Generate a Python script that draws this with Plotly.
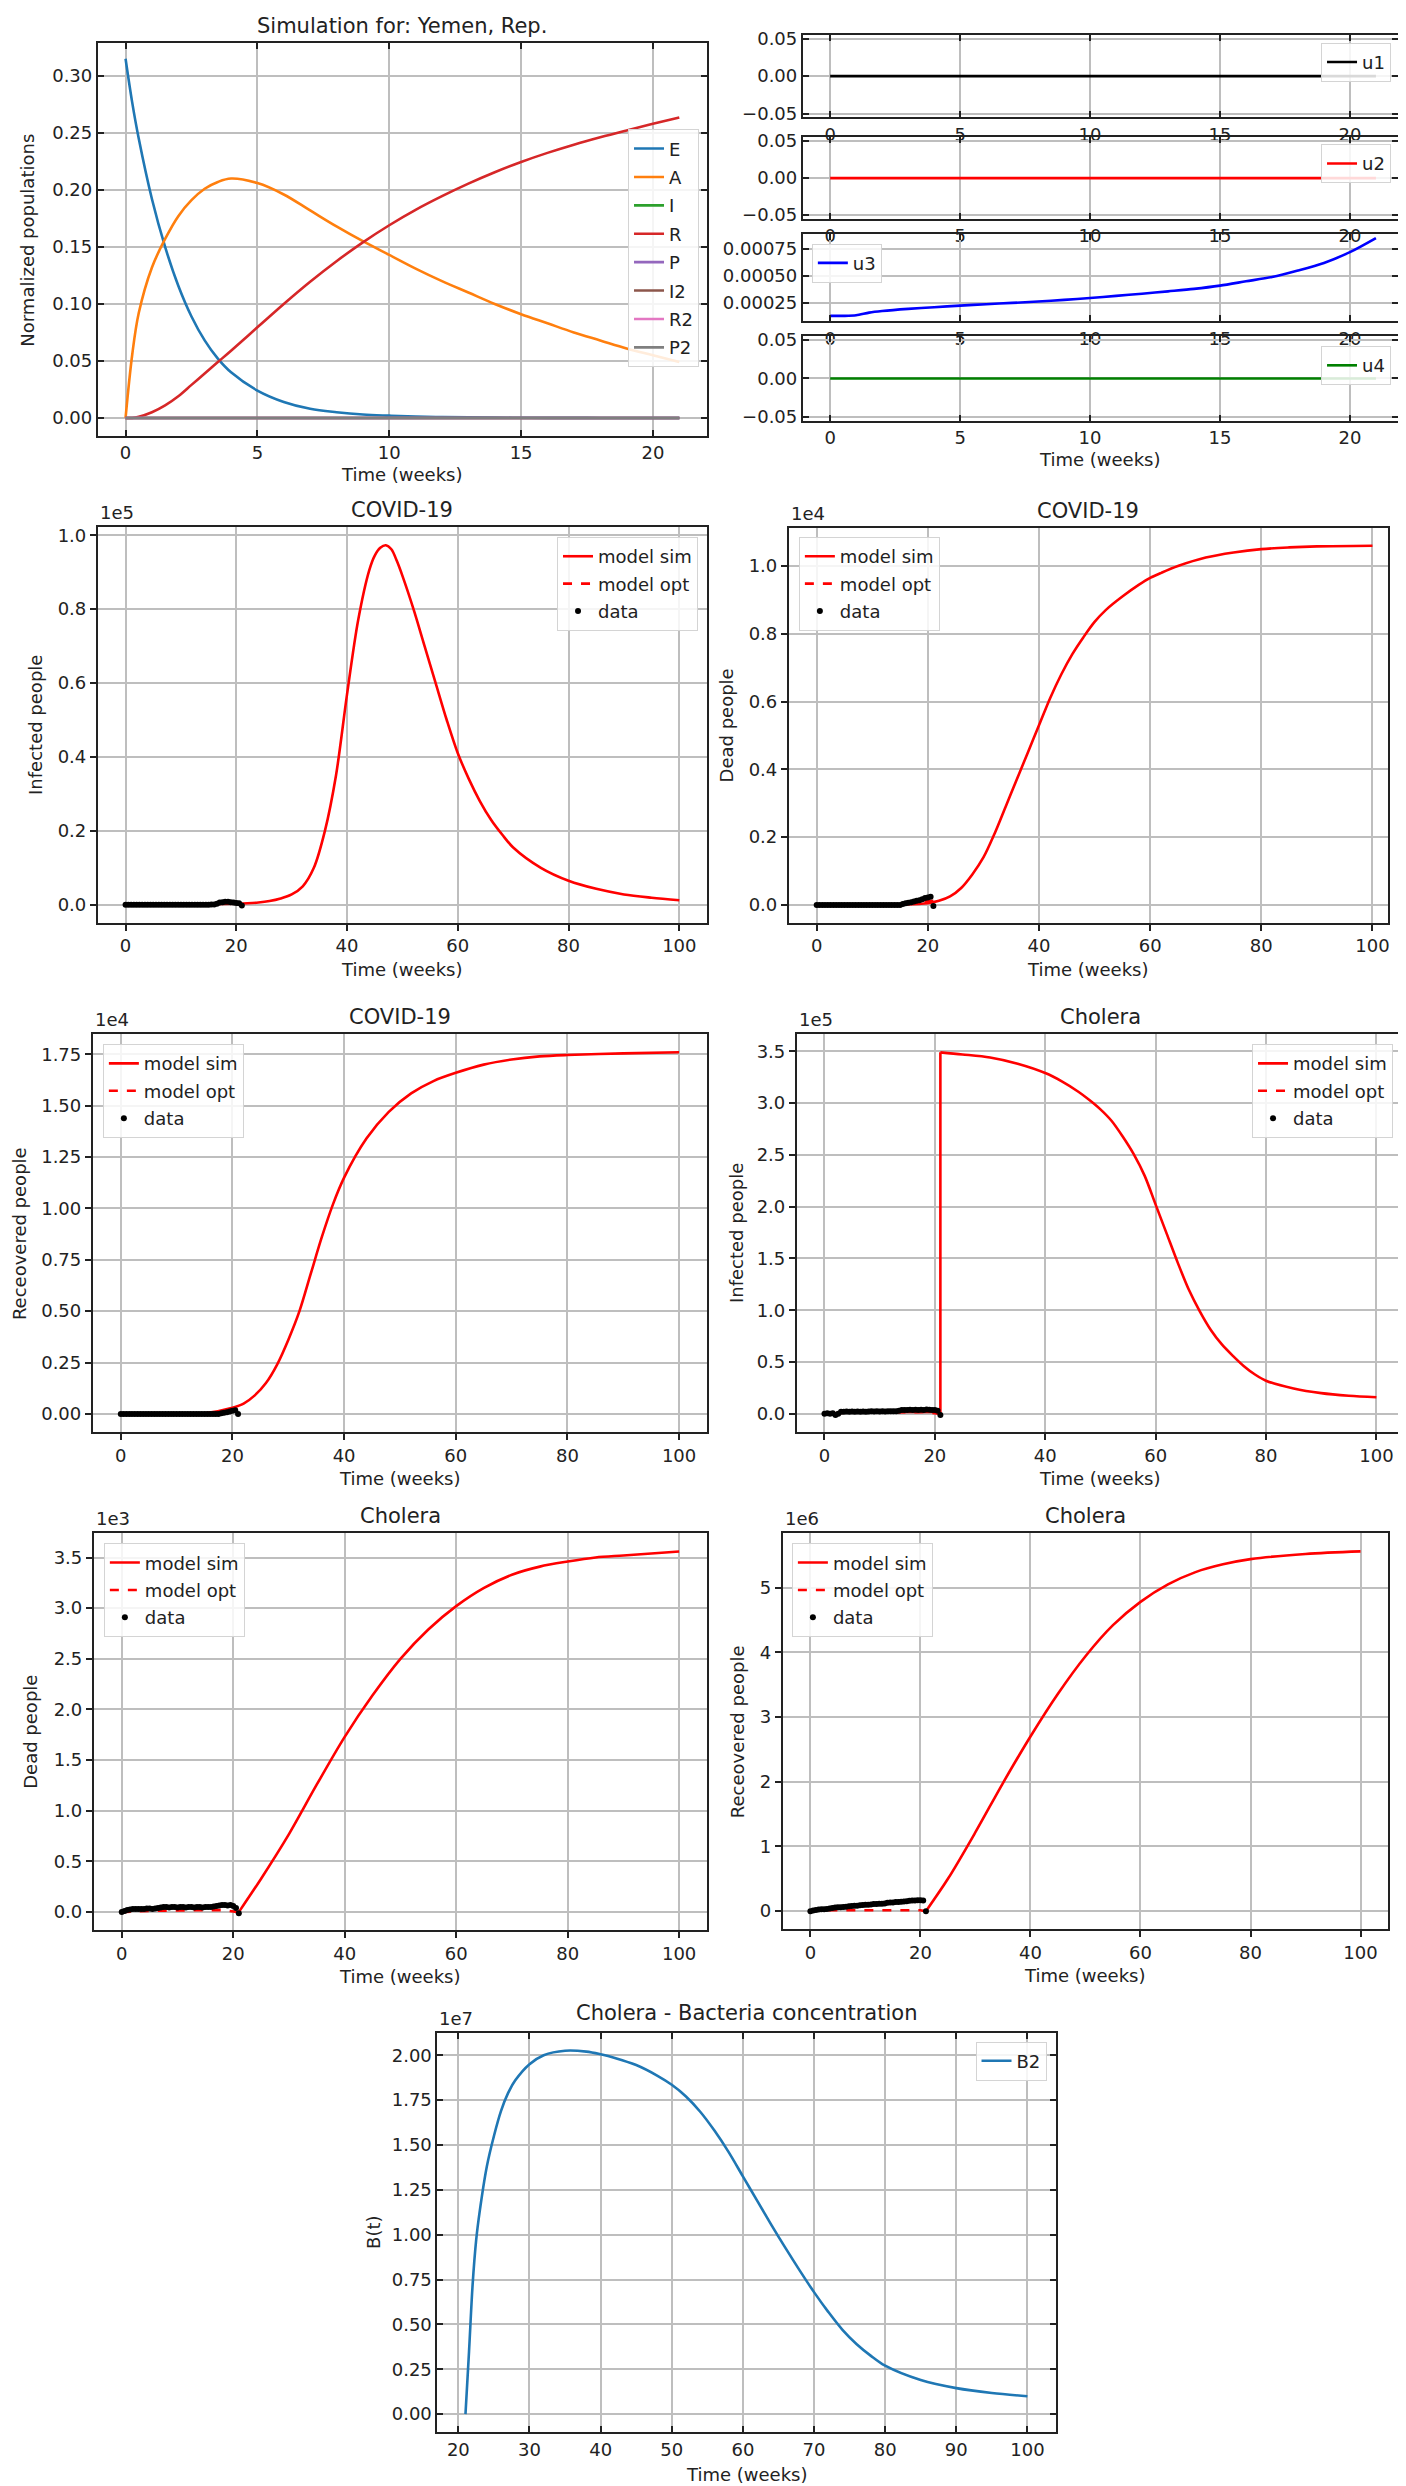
import plotly.graph_objects as go

W, H = 1406, 2486
FONT = "DejaVu Sans"

# ---------------- data ----------------
# Panel A : normalized populations (weeks 0..21)
pop_t = [0, 0.25, 0.5, 1, 1.5, 2, 2.5, 3, 3.5, 4, 5, 6, 7, 8, 9, 10, 11, 12, 13, 14, 15, 16, 17, 18, 19, 20, 21]
pop_E = [0.315, 0.277, 0.245, 0.192, 0.150, 0.116, 0.089, 0.068, 0.052, 0.040, 0.024, 0.014, 0.008, 0.005, 0.003,
         0.002, 0.0012, 0.0008, 0.0005, 0.0003, 0.0002, 0.0001, 0.0001, 0.0, 0.0, 0.0, 0.0]
pop_A = [0.0, 0.055, 0.092, 0.132, 0.157, 0.177, 0.191, 0.201, 0.207, 0.210, 0.206, 0.196, 0.182, 0.168, 0.155,
         0.143, 0.131, 0.120, 0.110, 0.100, 0.091, 0.083, 0.075, 0.068, 0.061, 0.055, 0.049]
pop_R = [0.0, 0.0, 0.001, 0.005, 0.011, 0.019, 0.029, 0.039, 0.049, 0.059, 0.0795, 0.1, 0.1195, 0.1375, 0.154,
         0.169, 0.1825, 0.1945, 0.2055, 0.2155, 0.2245, 0.2325, 0.2397, 0.2462, 0.2522, 0.258, 0.2635]
flat_t = [0, 21]
flat_zero = [0.0, 0.0]
pop_names = ["E", "A", "I", "R", "P", "I2", "R2", "P2"]
pop_colors = ["#1f77b4", "#ff7f0e", "#2ca02c", "#d62728", "#9467bd", "#8c564b", "#e377c2", "#7f7f7f"]

# Panel B : controls
u3_t = [0, 0.5, 1, 1.5, 2, 3, 4, 5, 6, 7, 8, 9, 10, 11, 12, 13, 14, 15, 16, 17, 18, 19, 20, 21]
u3_v = [0.00013, 0.00013, 0.000135, 0.00016, 0.000175, 0.000195, 0.00021, 0.000225, 0.000238, 0.00025,
        0.000263, 0.000278, 0.000295, 0.000315, 0.000335, 0.000357, 0.00038, 0.00041, 0.00045, 0.00049,
        0.00055, 0.00062, 0.00072, 0.00085]

# observed data times (weeks)
data_t = [0, 0.5, 1, 1.5, 2, 2.5, 3, 3.5, 4, 4.5, 5, 5.5, 6, 6.5, 7, 7.5, 8, 8.5, 9, 9.5, 10, 10.5,
          11, 11.5, 12, 12.5, 13, 13.5, 14, 14.5, 15, 15.5, 16, 16.5, 17, 17.5, 18, 18.5, 19, 19.5, 20, 20.5, 21]

# COVID-19 infected (x1e5)
covI_t = [0, 5, 10, 15, 20, 22, 24, 26, 28, 30, 32, 34, 36, 38, 40, 42, 44, 45, 46, 47, 48, 49, 50, 52, 54,
          56, 58, 60, 62, 64, 66, 68, 70, 75, 80, 85, 90, 95, 100]
covI_sim = [0.0, 0.0, 0.001, 0.002, 0.003, 0.004, 0.006, 0.010, 0.017, 0.028, 0.05, 0.10, 0.20, 0.35, 0.57,
            0.77, 0.905, 0.945, 0.966, 0.973, 0.962, 0.93, 0.89, 0.80, 0.70, 0.60, 0.50, 0.41, 0.34, 0.28,
            0.23, 0.19, 0.155, 0.10, 0.065, 0.043, 0.028, 0.019, 0.012]
covI_data = [0.0, 0.0, 0.0, 0.0, 0.0, 0.0, 0.0, 0.0, 0.0, 0.0, 0.0, 0.0, 0.0, 0.0, 0.0, 0.0,
             0.0, 0.0, 0.0, 0.0, 0.0, 0.0, 0.0, 0.0, 0.0, 0.0, 0.0, 0.0, 0.0, 0.0, 0.0,
             0.001, 0.001, 0.003, 0.006, 0.007, 0.008, 0.008, 0.007, 0.006, 0.005, 0.004, -0.002]
covI_opt_t = [0, 5, 10, 15, 17, 19, 21]
covI_opt = [0.0, 0.0, 0.0, 0.001, 0.003, 0.004, 0.003]

# COVID-19 dead (x1e4)
covD_t = [0, 5, 10, 15, 20, 22, 24, 26, 28, 30, 32, 34, 36, 38, 40, 42, 44, 46, 48, 50, 52, 55, 58, 60, 62,
          65, 70, 75, 80, 85, 90, 100]
covD_sim = [0.0, 0.0, 0.0, 0.001, 0.005, 0.012, 0.025, 0.05, 0.09, 0.14, 0.21, 0.29, 0.37, 0.45, 0.53, 0.61,
            0.68, 0.74, 0.79, 0.835, 0.87, 0.91, 0.945, 0.965, 0.98, 1.0, 1.025, 1.04, 1.05, 1.055, 1.058, 1.06]
covD_data = [0.0, 0.0, 0.0, 0.0, 0.0, 0.0, 0.0, 0.0, 0.0, 0.0, 0.0, 0.0, 0.0, 0.0, 0.0, 0.0, 0.0, 0.0, 0.0,
             0.0, 0.0, 0.0, 0.0, 0.0, 0.0, 0.0, 0.0, 0.0, 0.0, 0.0, 0.0,
             0.003, 0.005, 0.006, 0.008, 0.01, 0.012, 0.014, 0.017, 0.02, 0.022, 0.024, -0.003]
covD_opt_t = [0, 5, 10, 15, 17, 19, 21]
covD_opt = [0.0, 0.0, 0.0, 0.002, 0.006, 0.01, 0.012]

# COVID-19 recovered (x1e4)
covR_t = [0, 5, 10, 15, 20, 22, 24, 26, 28, 30, 32, 34, 36, 38, 40, 44, 48, 52, 56, 60, 65, 70, 75, 80, 90, 100]
covR_sim = [0.0, 0.0, 0.001, 0.003, 0.03, 0.05, 0.09, 0.15, 0.24, 0.36, 0.50, 0.68, 0.86, 1.02, 1.15, 1.34,
            1.47, 1.56, 1.62, 1.66, 1.70, 1.725, 1.74, 1.747, 1.755, 1.76]
covR_data = [0.0, 0.0, 0.0, 0.0, 0.0, 0.0, 0.0, 0.0, 0.0, 0.0, 0.0, 0.0, 0.0, 0.0, 0.0, 0.0, 0.0, 0.0, 0.0,
             0.0, 0.0, 0.0, 0.0, 0.0, 0.0, 0.0, 0.0, 0.0, 0.0, 0.0, 0.0, 0.0, 0.0, 0.0, 0.0, 0.0,
             0.003, 0.005, 0.008, 0.012, 0.015, 0.018, 0.0]
covR_opt_t = [0, 5, 10, 15, 18, 20, 21]
covR_opt = [0.0, 0.0, 0.0, 0.002, 0.006, 0.015, 0.02]

# Cholera infected (x1e5) -- jump at week 21
choI_t = [0, 5, 10, 15, 20, 21, 21, 25, 30, 35, 40, 43, 46, 48, 50, 52, 54, 56, 58, 60, 62, 64, 66, 68, 70,
          72, 74, 76, 78, 80, 85, 90, 95, 100]
choI_sim = [0.0, 0.015, 0.015, 0.02, 0.02, 0.0, 3.49, 3.47, 3.44, 3.38, 3.29, 3.21, 3.11, 3.03, 2.94, 2.83,
            2.68, 2.51, 2.30, 2.02, 1.74, 1.46, 1.20, 0.99, 0.81, 0.67, 0.56, 0.46, 0.38, 0.32, 0.245, 0.20,
            0.175, 0.16]
choI_data = [0.0, 0.005, 0.0, 0.005, -0.01, 0.0, 0.02, 0.02, 0.022, 0.02, 0.022, 0.02, 0.022, 0.02, 0.022,
             0.02, 0.022, 0.024, 0.022, 0.024, 0.022, 0.024, 0.022, 0.025, 0.024, 0.025, 0.026, 0.03, 0.038,
             0.036, 0.038, 0.04, 0.038, 0.04, 0.038, 0.04, 0.038, 0.042, 0.04, 0.038, 0.036, 0.03, -0.01]
choI_opt_t = [0, 3, 6, 10, 14, 18, 21]
choI_opt = [0.0, 0.01, 0.012, 0.012, 0.015, 0.018, 0.0]

# Cholera dead (x1e3)
choD_t = [21, 25, 30, 35, 40, 45, 50, 55, 60, 65, 70, 75, 80, 85, 90, 95, 100]
choD_sim = [0.0, 0.33, 0.77, 1.26, 1.73, 2.14, 2.50, 2.79, 3.02, 3.20, 3.33, 3.41, 3.46, 3.50, 3.52, 3.54, 3.56]
choD_data = [0.0, 0.01, 0.02, 0.025, 0.03, 0.03, 0.03, 0.03, 0.03, 0.035, 0.035, 0.03, 0.035, 0.04, 0.045,
             0.05, 0.05, 0.045, 0.05, 0.05, 0.045, 0.05, 0.05, 0.045, 0.05, 0.05, 0.045, 0.05, 0.05, 0.045,
             0.05, 0.05, 0.05, 0.055, 0.06, 0.065, 0.07, 0.07, 0.065, 0.07, 0.06, 0.04, -0.01]
choD_opt_t = [0, 3, 6, 9, 12, 15, 18, 21]
choD_opt = [0.0, 0.01, 0.015, 0.015, 0.02, 0.02, 0.02, 0.0]

# Cholera recovered (x1e6)
choR_t = [21, 25, 30, 35, 40, 45, 50, 55, 60, 65, 70, 75, 80, 90, 100]
choR_sim = [0.0, 0.50, 1.22, 1.98, 2.70, 3.36, 3.94, 4.42, 4.78, 5.05, 5.24, 5.36, 5.44, 5.52, 5.56]
choR_data = [0.0, 0.01, 0.02, 0.025, 0.03, 0.03, 0.035, 0.04, 0.05, 0.055, 0.06, 0.06, 0.065, 0.07, 0.075,
             0.08, 0.085, 0.085, 0.09, 0.095, 0.1, 0.1, 0.105, 0.11, 0.11, 0.115, 0.115, 0.12, 0.13, 0.135,
             0.135, 0.14, 0.14, 0.145, 0.15, 0.155, 0.16, 0.165, 0.165, 0.17, 0.17, 0.165, 0.0]
choR_opt_t = [0, 1, 3, 6, 10, 15, 20, 21]
choR_opt = [0.0, 0.01, 0.015, 0.015, 0.015, 0.015, 0.015, 0.0]

# Cholera bacteria concentration (x1e7)
bac_t = [21, 21.5, 22, 22.5, 23, 24, 25, 26, 27, 28, 30, 32, 35, 38, 40, 42, 45, 48, 50, 52, 54, 56, 58, 60,
         62, 64, 66, 68, 70, 72, 74, 76, 78, 80, 85, 90, 95, 100]
bac_v = [0.0, 0.35, 0.72, 0.97, 1.13, 1.38, 1.55, 1.69, 1.79, 1.86, 1.95, 2.0, 2.025, 2.02, 2.005, 1.985,
         1.945, 1.885, 1.835, 1.77, 1.685, 1.58, 1.46, 1.325, 1.19, 1.055, 0.925, 0.80, 0.68, 0.57, 0.47,
         0.39, 0.325, 0.27, 0.19, 0.145, 0.118, 0.10]

# tick labels
wk21_ticks = [0, 5, 10, 15, 20]
wk100_ticks = [0, 20, 40, 60, 80, 100]
bac_xticks = [20, 30, 40, 50, 60, 70, 80, 90, 100]
pop_yticks = [0.0, 0.05, 0.10, 0.15, 0.20, 0.25, 0.30]
pop_yticktext = ["0.00", "0.05", "0.10", "0.15", "0.20", "0.25", "0.30"]
u_yticks = [-0.05, 0.0, 0.05]
u_yticktext = ["\u22120.05", "0.00", "0.05"]
u3_yticks = [0.00025, 0.0005, 0.00075]
u3_yticktext = ["0.00025", "0.00050", "0.00075"]
y10_ticks = [0.0, 0.2, 0.4, 0.6, 0.8, 1.0]
y10_text = ["0.0", "0.2", "0.4", "0.6", "0.8", "1.0"]
y175_ticks = [0.0, 0.25, 0.5, 0.75, 1.0, 1.25, 1.5, 1.75]
y175_text = ["0.00", "0.25", "0.50", "0.75", "1.00", "1.25", "1.50", "1.75"]
y35_ticks = [0.0, 0.5, 1.0, 1.5, 2.0, 2.5, 3.0, 3.5]
y35_text = ["0.0", "0.5", "1.0", "1.5", "2.0", "2.5", "3.0", "3.5"]
y5_ticks = [0, 1, 2, 3, 4, 5]
y5_text = ["0", "1", "2", "3", "4", "5"]
y2_ticks = [0.0, 0.25, 0.5, 0.75, 1.0, 1.25, 1.5, 1.75, 2.0]
y2_text = ["0.00", "0.25", "0.50", "0.75", "1.00", "1.25", "1.50", "1.75", "2.00"]

# ---------------- figure ----------------
fig = go.Figure()
layout_updates = {}
annotations = []

GRID = "#bebebe"
AXC = "#222222"


def add_axes(n, frame, xr, yr, xt, yt, ytt, inside):
    x0, y0, x1, y1 = frame
    common = dict(showline=True, linecolor=AXC, linewidth=2, showgrid=True, gridcolor=GRID, gridwidth=1.5,
                  zeroline=False, tickfont=dict(family=FONT, size=18, color="#222"), ticklen=6,
                  tickwidth=1.5, tickcolor=AXC, tickmode="array")
    if inside:
        common.update(ticks="inside", mirror="ticks")
    else:
        common.update(ticks="outside", mirror=True)
    xk = "xaxis" if n == 1 else f"xaxis{n}"
    yk = "yaxis" if n == 1 else f"yaxis{n}"
    layout_updates[xk] = dict(domain=[x0 / W, x1 / W], range=xr, anchor="y" if n == 1 else f"y{n}",
                              tickvals=xt, ticktext=[str(v) for v in xt], **common)
    layout_updates[yk] = dict(domain=[1 - y1 / H, 1 - y0 / H], range=yr, anchor="x" if n == 1 else f"x{n}",
                              tickvals=yt, ticktext=ytt, **common)


def refs(n):
    return ("x", "y") if n == 1 else (f"x{n}", f"y{n}")


def lg(n):
    return "legend" if n == 1 else f"legend{n}"


def legend_cfg(x, y, xanchor, yanchor, gap=1):
    return dict(x=x / W, y=1 - y / H, xanchor=xanchor, yanchor=yanchor, xref="paper", yref="paper",
                bgcolor="rgba(255,255,255,0.85)", bordercolor="#d4d4d4", borderwidth=1,
                font=dict(family=FONT, size=18, color="#222"), tracegroupgap=gap,
                itemwidth=30)


def ann(text, x, y, size=18, angle=0, xanchor="center", yanchor="middle"):
    annotations.append(dict(text=text, x=x / W, y=1 - y / H, xref="paper", yref="paper", showarrow=False,
                            font=dict(family=FONT, size=size, color="#222"), textangle=angle,
                            xanchor=xanchor, yanchor=yanchor))


LW = 2.6

# ---- Panel A ----
add_axes(1, (90, 28, 700, 423), [-1.05, 22.05], [-0.0155, 0.329], wk21_ticks, pop_yticks, pop_yticktext, True)
pop_series = [pop_E, pop_A, None, pop_R, None, None, None, None]
for name, col, vals in zip(pop_names, pop_colors, pop_series):
    xs, ys = (pop_t, vals) if vals is not None else (flat_t, flat_zero)
    fig.add_trace(go.Scatter(x=xs, y=ys, mode="lines", name=name,
                             line=dict(color=col, width=LW, shape="spline", smoothing=1.0),
                             xaxis="x", yaxis="y", legend="legend", legendgroup=name))
layout_updates["legend"] = legend_cfg(692, 115, "right", "top", gap=2)
ann("Simulation for: Yemen, Rep.", 395, 11, size=21)
ann("Time (weeks)", 395, 462)
ann("Normalized populations", 20, 226, angle=-90)

# ---- Panel B (controls) ----
b_frames = [(796, 20, 1392, 103), (796, 123, 1392, 205), (796, 220, 1392, 308), (796, 323, 1392, 408)]
b_names = ["u1", "u2", "u3", "u4"]
b_colors = ["#000000", "#ff0000", "#0000ff", "#008000"]
b_leg = [(1385, 28, "right"), (1385, 130, "right"), (805, 230, "left"), (1385, 333, "right")]
for i in range(4):
    n = 2 + i
    if i == 2:
        add_axes(n, b_frames[i], [-1.05, 21.85], [0.00008, 0.00089], wk21_ticks, u3_yticks, u3_yticktext, True)
        xs, ys = u3_t, u3_v
    else:
        add_axes(n, b_frames[i], [-1.05, 21.85], [-0.055, 0.055], wk21_ticks, u_yticks, u_yticktext, True)
        xs, ys = flat_t, flat_zero
    xr_, yr_ = refs(n)
    fig.add_trace(go.Scatter(x=xs, y=ys, mode="lines", name=b_names[i],
                             line=dict(color=b_colors[i], width=LW, shape="spline", smoothing=0.8),
                             xaxis=xr_, yaxis=yr_, legend=lg(n)))
    lx, ly, la = b_leg[i]
    layout_updates[lg(n)] = legend_cfg(lx, ly, la, "top")
ann("Time (weeks)", 1094, 447)

# ---- Panels C..H ----
fit_panels = [
    (6, (90, 515, 700, 913), [-5, 105], [-0.049, 1.022], y10_ticks, y10_text, covI_t, covI_sim, covI_data,
     covI_opt_t, covI_opt, "COVID-19", "Infected people", "1e5", (691, 525, "right"), 28),
    (7, (782, 516, 1382, 913), [-5, 102.8], [-0.053, 1.112], y10_ticks, y10_text, covD_t, covD_sim, covD_data,
     covD_opt_t, covD_opt, "COVID-19", "Dead people", "1e4", (792, 525, "left"), 719),
    (8, (85, 1025, 700, 1425), [-5, 105], [-0.088, 1.848], y175_ticks, y175_text, covR_t, covR_sim, covR_data,
     covR_opt_t, covR_opt, "COVID-19", "Receovered people", "1e4", (95, 1035, "left"), 11),
    (9, (790, 1025, 1398, 1425), [-5, 105], [-0.175, 3.665], y35_ticks, y35_text, choI_t, choI_sim, choI_data,
     choI_opt_t, choI_opt, "Cholera", "Infected people", "1e5", (1387, 1035, "right"), 729),
    (10, (86, 1527, 700, 1926), [-5, 105], [-0.178, 3.738], y35_ticks, y35_text, choD_t, choD_sim, choD_data,
     choD_opt_t, choD_opt, "Cholera", "Dead people", "1e3", (96, 1537, "left"), 23),
    (11, (776, 1527, 1382, 1925), [-5, 105], [-0.278, 5.838], y5_ticks, y5_text, choR_t, choR_sim, choR_data,
     choR_opt_t, choR_opt, "Cholera", "Receovered people", "1e6", (785, 1537, "left"), 730),
]
for (n, frame, xr, yr, yt, ytt, st, sv, dv, ot, ov, title, ylab, expo, lpos, ylx) in fit_panels:
    add_axes(n, frame, xr, yr, wk100_ticks, yt, ytt, False)
    xr_, yr_ = refs(n)
    # split at a vertical jump (repeated time value) so the smooth part stays smooth
    jump = next((k for k in range(1, len(st)) if st[k] == st[k - 1]), None)
    if jump is None:
        segs = [(st, sv, "spline")]
    else:
        segs = [(st[:jump + 1], sv[:jump + 1], "linear"), (st[jump:], sv[jump:], "spline")]
    for si, (sx, sy, shp) in enumerate(segs):
        line_sim = dict(color="#ff0000", width=LW, shape=shp)
        if shp == "spline":
            line_sim["smoothing"] = 0.9
        fig.add_trace(go.Scatter(x=sx, y=sy, mode="lines", name="model sim", line=line_sim,
                                 xaxis=xr_, yaxis=yr_, legend=lg(n), legendgroup=f"sim{n}",
                                 showlegend=(si == 0)))
    fig.add_trace(go.Scatter(x=ot, y=ov, mode="lines", name="model opt",
                             line=dict(color="#ff0000", width=LW, dash="dash"),
                             xaxis=xr_, yaxis=yr_, legend=lg(n), legendgroup=f"opt{n}"))
    fig.add_trace(go.Scatter(x=data_t, y=dv, mode="markers", name="data",
                             marker=dict(color="#000000", size=6),
                             xaxis=xr_, yaxis=yr_, legend=lg(n), legendgroup=f"dat{n}"))
    lx, ly, la = lpos
    layout_updates[lg(n)] = legend_cfg(lx, ly, la, "top", gap=1)
    x0, y0, x1, y1 = frame
    cx = (x0 + x1) / 2
    ann(title, cx, y0 - 17, size=21)
    ann(expo, x0, y0 - 2, xanchor="left", yanchor="bottom")
    ann("Time (weeks)", cx, y1 + 47)
    ann(ylab, ylx, (y0 + y1) / 2, angle=-90)

# ---- Panel I (bacteria) ----
add_axes(12, (430, 2029, 1049, 2431), [17.05, 103.95], [-0.101, 2.126], bac_xticks, y2_ticks, y2_text, True)
fig.add_trace(go.Scatter(x=bac_t, y=bac_v, mode="lines", name="B2",
                         line=dict(color="#1f77b4", width=LW, shape="spline", smoothing=0.9),
                         xaxis="x12", yaxis="y12", legend="legend12"))
layout_updates["legend12"] = legend_cfg(1040, 2038, "right", "top")
ann("Cholera - Bacteria concentration", 740, 2009, size=21)
ann("1e7", 430, 2027, xanchor="left", yanchor="bottom")
ann("Time (weeks)", 740, 2473)
ann("B(t)", 366, 2230, angle=-90)

fig.update_layout(**layout_updates)
fig.update_layout(width=W, height=H, margin=dict(l=0, r=0, t=0, b=0), paper_bgcolor="white",
                  plot_bgcolor="white", annotations=annotations, showlegend=True,
                  font=dict(family=FONT, size=18, color="#222"))

fig.write_html("out.html")
